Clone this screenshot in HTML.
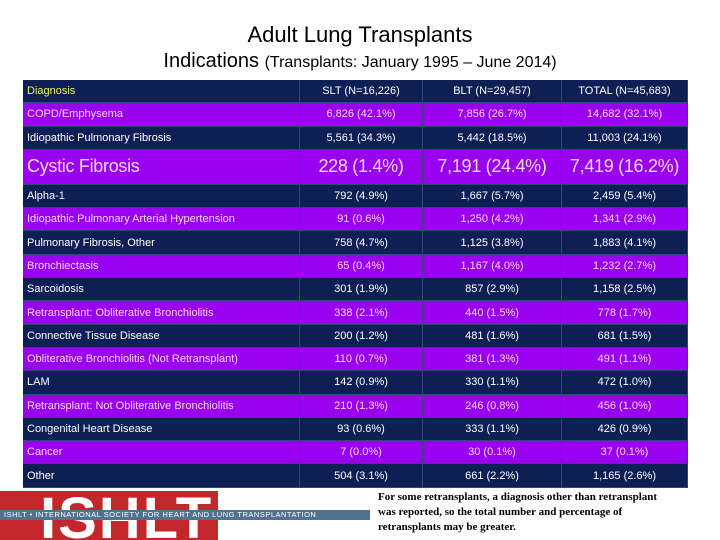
<!DOCTYPE html>
<html><head><meta charset="utf-8"><style>
body{margin:0;width:720px;height:540px;background:#fff;position:relative;overflow:hidden;font-family:"Liberation Sans",sans-serif}
.t1{position:absolute;top:22px;left:0;width:720px;text-align:center;font-size:22px;color:#000}
.t2{position:absolute;top:50px;left:0;width:720px;text-align:center;font-size:20px;color:#000}
.t2 span{font-size:16px}
table{position:absolute;left:23px;top:80px;width:665px;border-collapse:collapse;font-size:11px}
td{padding:0 4px;height:22.3px;color:#fff;border-right:1px solid #33447a;border-bottom:1px solid #33447a;white-space:nowrap;overflow:hidden}
td:not(:first-child){text-align:center}
td:first-child{width:268px}
td:nth-child(2){width:114px}td:nth-child(3){width:130px}
tr.n td{background:#0d1f55}
tr.p td{background:#9a00f0;color:#f8d8ff}
tr.big td{font-size:18px;height:34px;letter-spacing:-0.3px}
tr.h td:first-child{color:#f0f060}
.logo{position:absolute;left:0;top:491px;width:218px;height:49px;background:#c3262b;overflow:hidden}
.logo .big{position:absolute;left:40px;top:-6px;font-size:58px;font-weight:bold;color:#fff;letter-spacing:2px}
.band{position:absolute;left:0;top:510px;width:366px;height:10px;background:#52708f;color:#fff;font-size:7.5px;line-height:10px;white-space:nowrap;letter-spacing:.5px;padding-left:4px}
.note{position:absolute;left:378px;top:490px;width:340px;font-family:"Liberation Serif",serif;font-size:11px;line-height:15px;font-weight:bold;white-space:nowrap}
</style></head><body>
<div class="t1">Adult Lung Transplants</div>
<div class="t2">Indications <span>(Transplants: January 1995 – June 2014)</span></div>
<table>
<tr class="n h"><td>Diagnosis</td><td>SLT (N=16,226)</td><td>BLT (N=29,457)</td><td>TOTAL (N=45,683)</td></tr>
<tr class="p"><td>COPD/Emphysema</td><td>6,826 (42.1%)</td><td>7,856 (26.7%)</td><td>14,682 (32.1%)</td></tr>
<tr class="n"><td>Idiopathic Pulmonary Fibrosis</td><td>5,561 (34.3%)</td><td>5,442 (18.5%)</td><td>11,003 (24.1%)</td></tr>
<tr class="p big"><td>Cystic Fibrosis</td><td>228 (1.4%)</td><td>7,191 (24.4%)</td><td>7,419 (16.2%)</td></tr>
<tr class="n"><td>Alpha-1</td><td>792 (4.9%)</td><td>1,667 (5.7%)</td><td>2,459 (5.4%)</td></tr>
<tr class="p"><td>Idiopathic Pulmonary Arterial Hypertension</td><td>91 (0.6%)</td><td>1,250 (4.2%)</td><td>1,341 (2.9%)</td></tr>
<tr class="n"><td>Pulmonary Fibrosis, Other</td><td>758 (4.7%)</td><td>1,125 (3.8%)</td><td>1,883 (4.1%)</td></tr>
<tr class="p"><td>Bronchiectasis</td><td>65 (0.4%)</td><td>1,167 (4.0%)</td><td>1,232 (2.7%)</td></tr>
<tr class="n"><td>Sarcoidosis</td><td>301 (1.9%)</td><td>857 (2.9%)</td><td>1,158 (2.5%)</td></tr>
<tr class="p"><td>Retransplant: Obliterative Bronchiolitis</td><td>338 (2.1%)</td><td>440 (1.5%)</td><td>778 (1.7%)</td></tr>
<tr class="n"><td>Connective Tissue Disease</td><td>200 (1.2%)</td><td>481 (1.6%)</td><td>681 (1.5%)</td></tr>
<tr class="p"><td>Obliterative Bronchiolitis (Not Retransplant)</td><td>110 (0.7%)</td><td>381 (1.3%)</td><td>491 (1.1%)</td></tr>
<tr class="n"><td>LAM</td><td>142 (0.9%)</td><td>330 (1.1%)</td><td>472 (1.0%)</td></tr>
<tr class="p"><td>Retransplant: Not Obliterative Bronchiolitis</td><td>210 (1.3%)</td><td>246 (0.8%)</td><td>456 (1.0%)</td></tr>
<tr class="n"><td>Congenital Heart Disease</td><td>93 (0.6%)</td><td>333 (1.1%)</td><td>426 (0.9%)</td></tr>
<tr class="p"><td>Cancer</td><td>7 (0.0%)</td><td>30 (0.1%)</td><td>37 (0.1%)</td></tr>
<tr class="n"><td>Other</td><td>504 (3.1%)</td><td>661 (2.2%)</td><td>1,165 (2.6%)</td></tr>
</table>
<div class="logo"><div class="big">ISHLT</div></div>
<div class="band">ISHLT • INTERNATIONAL SOCIETY FOR HEART AND LUNG TRANSPLANTATION</div>
<div class="note">For some retransplants, a diagnosis other than retransplant<br>was reported, so the total number and percentage of<br>retransplants may be greater.</div>
</body></html>
